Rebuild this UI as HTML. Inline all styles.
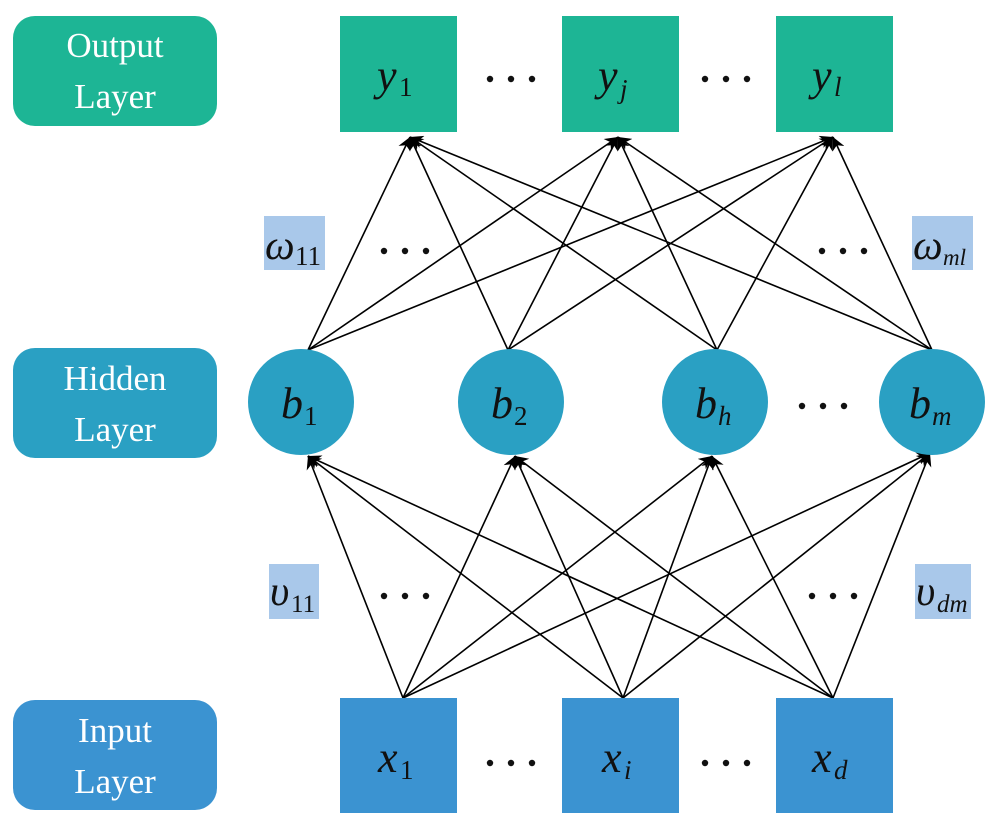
<!DOCTYPE html>
<html><head><meta charset="utf-8"><style>
html,body{margin:0;padding:0;background:#fff;}
svg{display:block;}
.lbl{font-family:"Liberation Serif",serif;fill:#fff;font-size:35px;text-anchor:middle;}
.v{font-family:"Liberation Serif",serif;font-style:italic;fill:#111;font-size:44px;}
.s{font-family:"Liberation Serif",serif;font-size:27px;fill:#111;}
.si{font-family:"Liberation Serif",serif;font-style:italic;font-size:27px;fill:#111;}
</style></head><body>
<svg width="1001" height="820" viewBox="0 0 1001 820" xmlns="http://www.w3.org/2000/svg">
<defs>
<marker id="a" viewBox="0 0 10 10" refX="10" refY="5" markerWidth="15" markerHeight="13" orient="auto" markerUnits="userSpaceOnUse"><path d="M0,0 L10,5 L0,10 L3,5 z" fill="#000"/></marker>
<g id="d"><circle cx="-21" cy="0" r="3.2" fill="#111"/><circle cx="0" cy="0" r="3.2" fill="#111"/><circle cx="21" cy="0" r="3.2" fill="#111"/></g>
</defs>
<rect x="13" y="16" width="204" height="110" rx="22" fill="#1db595"/>
<text class="lbl" x="115" y="57">Output</text><text class="lbl" x="115" y="108">Layer</text>
<rect x="13" y="348" width="204" height="110" rx="22" fill="#2aa0c3"/>
<text class="lbl" x="115" y="390">Hidden</text><text class="lbl" x="115" y="441">Layer</text>
<rect x="13" y="700" width="204" height="110" rx="22" fill="#3b93d1"/>
<text class="lbl" x="115" y="742">Input</text><text class="lbl" x="115" y="793">Layer</text>
<g stroke="#000" stroke-width="1.6" marker-end="url(#a)">
<line x1="403" y1="698" x2="308" y2="456"/><line x1="403" y1="698" x2="515" y2="456"/><line x1="403" y1="698" x2="712" y2="456"/><line x1="403" y1="698" x2="930" y2="453"/>
<line x1="623" y1="698" x2="308" y2="456"/><line x1="623" y1="698" x2="515" y2="456"/><line x1="623" y1="698" x2="712" y2="456"/><line x1="623" y1="698" x2="930" y2="453"/>
<line x1="833" y1="698" x2="308" y2="456"/><line x1="833" y1="698" x2="515" y2="456"/><line x1="833" y1="698" x2="712" y2="456"/><line x1="833" y1="698" x2="930" y2="453"/>
<line x1="308" y1="350" x2="410" y2="137"/><line x1="308" y1="350" x2="618" y2="137"/><line x1="308" y1="350" x2="833" y2="137"/>
<line x1="508" y1="350" x2="410" y2="137"/><line x1="508" y1="350" x2="618" y2="137"/><line x1="508" y1="350" x2="833" y2="137"/>
<line x1="717" y1="350" x2="410" y2="137"/><line x1="717" y1="350" x2="618" y2="137"/><line x1="717" y1="350" x2="833" y2="137"/>
<line x1="932" y1="350" x2="410" y2="137"/><line x1="932" y1="350" x2="618" y2="137"/><line x1="932" y1="350" x2="833" y2="137"/>
</g>
<rect x="340" y="16" width="117" height="116" fill="#1db595"/>
<rect x="562" y="16" width="117" height="116" fill="#1db595"/>
<rect x="776" y="16" width="117" height="116" fill="#1db595"/>
<text class="v" x="377" y="90">y</text><text class="s" x="399" y="96">1</text>
<text class="v" x="598" y="90">y</text><text class="si" x="620" y="98">j</text>
<text class="v" x="812" y="90">y</text><text class="si" x="834" y="96">l</text>
<use href="#d" x="511" y="79"/><use href="#d" x="726" y="79"/>
<circle cx="301" cy="402" r="53" fill="#2aa0c3"/>
<circle cx="511" cy="402" r="53" fill="#2aa0c3"/>
<circle cx="715" cy="402" r="53" fill="#2aa0c3"/>
<circle cx="932" cy="402" r="53" fill="#2aa0c3"/>
<text class="v" x="281" y="418">b</text><text class="s" x="304" y="425">1</text>
<text class="v" x="491" y="418">b</text><text class="s" x="514" y="425">2</text>
<text class="v" x="695" y="418">b</text><text class="si" x="718" y="425">h</text>
<text class="v" x="909" y="418">b</text><text class="si" x="932" y="425">m</text>
<use href="#d" x="823" y="406"/>
<rect x="340" y="698" width="117" height="115" fill="#3b93d1"/>
<rect x="562" y="698" width="117" height="115" fill="#3b93d1"/>
<rect x="776" y="698" width="117" height="115" fill="#3b93d1"/>
<text class="v" x="378" y="772">x</text><text class="s" x="400" y="779">1</text>
<text class="v" x="602" y="772">x</text><text class="si" x="624" y="779">i</text>
<text class="v" x="812" y="772">x</text><text class="si" x="834" y="779">d</text>
<use href="#d" x="511" y="763"/><use href="#d" x="726" y="763"/>
<rect x="264" y="216" width="61" height="54" fill="#a9c8ea"/>
<text class="v" x="265" y="259" style="font-size:42px">ω</text><text class="s" x="295" y="265">11</text>
<rect x="912" y="216" width="61" height="54" fill="#a9c8ea"/>
<text class="v" x="913" y="259" style="font-size:42px">ω</text><text class="si" x="943" y="265" style="font-size:23px">ml</text>
<rect x="269" y="564" width="50" height="55" fill="#a9c8ea"/>
<text class="v" x="270" y="605" style="font-size:42px">υ</text><text class="s" x="291" y="612" style="font-size:25px">11</text>
<rect x="915" y="564" width="56" height="55" fill="#a9c8ea"/>
<text class="v" x="916" y="605" style="font-size:42px">υ</text><text class="si" x="937" y="612" style="font-size:25px">dm</text>
<use href="#d" x="405" y="251"/><use href="#d" x="843" y="251"/>
<use href="#d" x="405" y="596"/><use href="#d" x="833" y="596"/>
</svg>
</body></html>
